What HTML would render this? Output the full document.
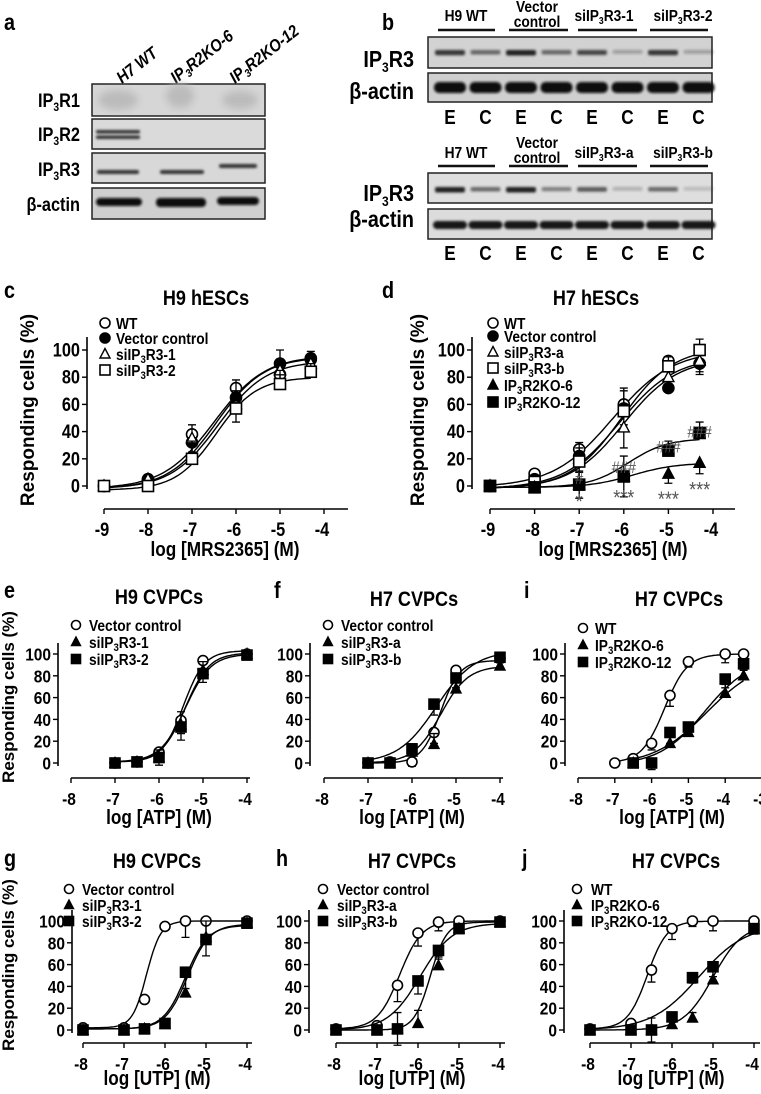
<!DOCTYPE html>
<html><head><meta charset="utf-8">
<style>
html,body{margin:0;padding:0;background:#fff;}
svg{display:block;font-family:"Liberation Sans Narrow","Liberation Sans",sans-serif;font-weight:bold;}
</style></head>
<body>
<svg id="fig" width="761" height="1094" viewBox="0 0 761 1094" xmlns="http://www.w3.org/2000/svg">
<defs>
<filter id="blur1" x="-20%" y="-100%" width="140%" height="300%"><feGaussianBlur stdDeviation="1.3"/></filter>
<filter id="blur3" x="-20%" y="-50%" width="140%" height="200%"><feGaussianBlur stdDeviation="4"/></filter>
</defs>

<!-- Panel a -->
<g>
<text x="4" y="30" font-size="23">a</text>
<g font-size="17" font-style="italic">
<text transform="translate(122,84) rotate(-38) scale(0.88,1)">H7 WT</text>
<text transform="translate(176,84) rotate(-38) scale(0.88,1)">IP<tspan font-size="11" dy="3">3</tspan><tspan dy="-3">R2KO-6</tspan></text>
<text transform="translate(235,84) rotate(-38) scale(0.88,1)">IP<tspan font-size="11" dy="3">3</tspan><tspan dy="-3">R2KO-12</tspan></text>
</g>
<g font-size="19" text-anchor="end">
<text x="80" y="107">IP<tspan font-size="12" dy="4">3</tspan><tspan dy="-4">R1</tspan></text>
<text x="80" y="141">IP<tspan font-size="12" dy="4">3</tspan><tspan dy="-4">R2</tspan></text>
<text x="80" y="176">IP<tspan font-size="12" dy="4">3</tspan><tspan dy="-4">R3</tspan></text>
<text x="80" y="211">β-actin</text>
</g>
<rect x="92" y="84" width="173" height="32" fill="#d6d6d6" stroke="#222" stroke-width="1.5"/>
<rect x="92" y="119" width="173" height="30" fill="#dadada" stroke="#222" stroke-width="1.5"/>
<rect x="92" y="153" width="173" height="30" fill="#d8d8d8" stroke="#222" stroke-width="1.5"/>
<rect x="92" y="188" width="173" height="31" fill="#cfcfcf" stroke="#222" stroke-width="1.5"/>
<g filter="url(#blur3)" fill="#bbb"><ellipse cx="118" cy="100" rx="20" ry="10"/><ellipse cx="180" cy="96" rx="14" ry="12"/><ellipse cx="240" cy="100" rx="18" ry="9"/></g>
<g filter="url(#blur1)" fill="#333">
<rect x="96" y="130" width="44" height="3.5" rx="1.5"/><rect x="96" y="135.5" width="44" height="3.5" rx="1.5"/>
<rect x="97" y="170" width="42" height="4" rx="2"/><rect x="160" y="170" width="44" height="4" rx="2"/><rect x="219" y="164" width="38" height="4" rx="2"/>
<rect x="96" y="198" width="46" height="8" rx="4" fill="#111"/><rect x="156" y="198" width="50" height="9" rx="4" fill="#111"/><rect x="217" y="197" width="42" height="8" rx="4" fill="#111"/>
</g>
</g>

<!-- Panel b -->
<g>
<text x="382" y="30" font-size="23">b</text>
<g font-size="16" text-anchor="middle">
<text x="466" y="21">H9 WT</text>
<text x="537" y="12">Vector</text>
<text x="537" y="27">control</text>
<text x="604" y="21">siIP<tspan font-size="10" dy="3">3</tspan><tspan dy="-3">R3-1</tspan></text>
<text x="683" y="21">siIP<tspan font-size="10" dy="3">3</tspan><tspan dy="-3">R3-2</tspan></text>
<text x="466" y="158">H7 WT</text>
<text x="537" y="148">Vector</text>
<text x="537" y="163">control</text>
<text x="604" y="158">siIP<tspan font-size="10" dy="3">3</tspan><tspan dy="-3">R3-a</tspan></text>
<text x="683" y="158">siIP<tspan font-size="10" dy="3">3</tspan><tspan dy="-3">R3-b</tspan></text>
</g>
<g stroke="#111" stroke-width="2.5">
<line x1="438" y1="30" x2="495" y2="30"/><line x1="509" y1="30" x2="568" y2="30"/><line x1="578" y1="30" x2="637" y2="30"/><line x1="650" y1="30" x2="708" y2="30"/>
<line x1="438" y1="166" x2="495" y2="166"/><line x1="509" y1="166" x2="568" y2="166"/><line x1="578" y1="166" x2="637" y2="166"/><line x1="650" y1="166" x2="708" y2="166"/>
</g>
<g font-size="23" text-anchor="end">
<text x="414" y="67">IP<tspan font-size="14" dy="5">3</tspan><tspan dy="-5">R3</tspan></text>
<text x="414" y="99">β-actin</text>
<text x="414" y="201">IP<tspan font-size="14" dy="5">3</tspan><tspan dy="-5">R3</tspan></text>
<text x="414" y="227">β-actin</text>
</g>
<rect x="428" y="37" width="284" height="31" fill="#d2d2d2" stroke="#222" stroke-width="1.5"/>
<rect x="428" y="73" width="284" height="29" fill="#cfcfcf" stroke="#222" stroke-width="1.5"/>
<rect x="428" y="173" width="284" height="30" fill="#dedede" stroke="#222" stroke-width="1.5"/>
<rect x="428" y="209" width="284" height="30" fill="#dcdcdc" stroke="#222" stroke-width="1.5"/>
<g id="bbands" filter="url(#blur1)"></g>
<g id="eclabels" font-size="20" text-anchor="middle"></g>
</g>

<g id="charts"></g>
</svg>
<script>
// ---------- chart data ----------
const cX=[-9,-8,-7,-6,-5,-4.3];
const cWT=[0,5,38,72,82,94];
const cVec=[0,5,32,65,90,93];
const cSi1=[0,5,35,60,85,90];
const cSi2=[0,0,20,57,75,84];
const cErr=[3,3,13,13,10,6];
const cFitWT=[-2,96,-6.5,0.75];
const cFitVec=[-2,95,-6.45,0.8];
const cFitSi1=[-2,92,-6.4,0.8];
const cFitSi2=[-3,80,-6.45,0.95];

const dX=[-9,-8,-7,-6,-5,-4.3];
const dWT=[0,9,27,60,92,90];
const dVec=[0,5,22,57,72,90];
const dSiA=[0,4,20,43,80,92];
const dSiB=[0,3,18,55,88,100];
const dKO6=[0,-1,1,7,9,17];
const dKO12=[0,-1,1,7,26,39];
const dErr=[2,2,10,15,7,8];
const dFitWT=[-1,100,-6.25,0.65];
const dFitVec=[-2,95,-6.1,0.7];
const dFitSiA=[-2,94,-6.0,0.72];
const dFitSiB=[-2,102,-6.05,0.75];
const dFitKO6=[-1,17,-5.8,0.9];
const dFitKO12=[-1,35,-5.9,1.0];
const dHashVals=[6,14,29,40];
const dHashLabels=["#","###","###","###"];
const dStarVals=[-7,-4,-5,2];
const dStarLabels=["*","***","***","***"];

const eX=[-7,-6.5,-6,-5.5,-5,-4];
const eVec=[0,1,10,39,94,100];
const eSi1=[0,1,5,35,85,100];
const eSi2=[0,1,5,33,82,99];
const eErr=[2,2,7,12,8,3];
const eFitVec=[1,103,-5.45,1.8];
const eFitSi1=[1,101,-5.4,1.6];
const eFitSi2=[1,100,-5.4,1.5];

const fX=[-7,-6.5,-6,-5.5,-5,-4];
const fVec=[0,1,1,28,85,96];
const fSiA=[0,0,10,17,68,89];
const fSiB=[0,0,13,54,78,97];
const fErr=[2,2,4,10,9,4];
const fFitVec=[0,94,-5.35,2.0];
const fFitSiA=[0,89,-5.35,1.4];
const fFitSiB=[0,103,-5.45,1.0];

const iX=[-7,-6.5,-6,-5.5,-5,-4,-3.5];
const iWT=[0,4,18,62,93,100,100];
const iKO6=[null,0,null,18,28,64,80];
const iKO12=[null,0,0,28,33,77,91];
const iErr=[2,4,6,10,5,8,6];
const iFitWT=[0,100,-5.65,1.4];
const iFitKO6=[-2,95,-4.5,0.6];
const iFitKO12=[-2,97,-4.55,0.7];

const gX=[-8,-7,-6.5,-6,-5.5,-5,-4];
const gVec=[2,2,28,95,100,100,100];
const gSi1=[0,0,1,5,34,85,98];
const gSi2=[0,0,1,6,53,83,98];
const gErr=[2,2,3,3,15,15,3];
const gFitVec=[2,100,-6.45,2.5];
const gFitSi1=[1,97,-5.45,1.6];
const gFitSi2=[1,96,-5.5,1.6];

const hX=[-8,-7,-6.5,-6,-5.5,-5,-4];
const hVec=[1,4,41,89,99,100,100];
const hSiA=[0,0,1,6,59,93,99];
const hSiB=[0,0,1,45,73,93,99];
const hErr=[2,2,15,12,8,4,3];
const hFitVec=[1,100,-6.45,1.6];
const hFitSiA=[0,99,-5.7,2.2];
const hFitSiB=[0,98,-5.95,1.1];

const jX=[-8,-7,-6.5,-6,-5.5,-5,-4];
const jWT=[1,6,55,93,100,100,100];
const jKO6=[0,0,0,5,11,46,92];
const jKO12=[0,0,0,12,48,58,93];
const jErr=[2,2,11,10,5,9,5];
const jFitWT=[1,100,-6.6,1.8];
const jFitKO6=[0,97,-5.0,1.2];
const jFitKO12=[0,97,-5.35,0.75];

const blotLanes=["E","C","E","C","E","C","E","C"];
const ip3r3H9=[0.9,0.6,1.0,0.6,0.8,0.3,0.9,0.3];
const ip3r3H7=[1.0,0.6,1.0,0.5,0.7,0.25,0.6,0.2];

const NS="http://www.w3.org/2000/svg";
function mk(tag,attrs,parent){const e=document.createElementNS(NS,tag);for(const k in attrs)e.setAttribute(k,attrs[k]);parent.appendChild(e);return e;}
function fmt(s){const parts=s.split(/_(\d)/);if(parts.length===1)return s;let out=parts[0];for(let i=1;i<parts.length;i+=2){out+='<tspan font-size="70%" dy="3">'+parts[i]+'</tspan><tspan dy="-3">'+parts[i+1]+'</tspan>';}return out;}

const bb=document.getElementById('bbands');
const ecl=document.getElementById('eclabels');
blotLanes.forEach((L,i)=>{
  const cx=450+i*35.5;
  const a=ip3r3H9[i];
  const r1=mk('rect',{x:cx-15,y:50,width:30,height:3+a*2.5,rx:2,fill:'#222','fill-opacity':a},bb);
  
  
  const r2=mk('rect',{x:cx-16,y:82,width:32,height:11,rx:5,fill:'#111'},bb);
  
  
  const b=ip3r3H7[i];
  const r3=mk('rect',{x:cx-15,y:187,width:30,height:3+b*2.5,rx:2,fill:'#222','fill-opacity':b},bb);
  
  
  const r4=mk('rect',{x:cx-17,y:221,width:34,height:8,rx:4,fill:'#151515'},bb);
  
  
  const t1=mk('text',{x:cx,y:124},ecl);t1.textContent=L;
  
  
  const t2=mk('text',{x:cx,y:260},ecl);t2.textContent=L;
  
  
});

function marker(g,type,x,y,s){
  let e;
  const fill=(type.startsWith('f'))?'#000':'#fff';
  if(type.endsWith('circle')) e=mk('circle',{cx:x,cy:y,r:s,fill:fill,stroke:'#000','stroke-width':1.6},g);
  else if(type.endsWith('square')) e=mk('rect',{x:x-s,y:y-s,width:2*s,height:2*s,fill:fill,stroke:'#000','stroke-width':1.6},g);
  else e=mk('polygon',{points:`${x},${y-s*1.1} ${x+s},${y+s*0.8} ${x-s},${y+s*0.8}`,fill:fill,stroke:'#000','stroke-width':1.4},g);
  return e;
}
function sig(p,x){return p[0]+(p[1]-p[0])/(1+Math.pow(10,(p[2]-x)*p[3]));}

function panel(cfg){
  const root=document.getElementById('charts');
  const g=mk('g',{},root);
  
  
  const X=v=>cfg.x0+(v-cfg.xmin)*cfg.dx;
  const Y=v=>cfg.y0-v*cfg.dy;
  const lt=mk('text',{x:cfg.lx,y:cfg.ly,'font-size':23},g);lt.textContent=cfg.letter;
  
  
  const tt=mk('text',{x:cfg.tx,y:cfg.ty,'font-size':cfg.tfs||21,'text-anchor':'middle'},g);tt.textContent=cfg.title;
  
  
  const ya=mk('line',{x1:cfg.ax,y1:cfg.yTop,x2:cfg.ax,y2:Y(0)+3,stroke:'#000','stroke-width':1.6},g);
  
  
  for(let v=0;v<=100;v+=20){
    mk('line',{x1:cfg.ax-5,y1:Y(v),x2:cfg.ax,y2:Y(v),stroke:'#000','stroke-width':1.4},g);
    const t=mk('text',{x:cfg.ax-7,y:Y(v)+6.5,'font-size':cfg.tkfs,'text-anchor':'end'},g);t.textContent=v;
    
    
  }
  if(cfg.ytx){
    const yt=mk('text',{x:0,y:0,'font-size':cfg.ytfs||18,'text-anchor':'middle',transform:`translate(${cfg.ytx},${cfg.yty}) rotate(-90)`,'font-family':'Liberation Sans, sans-serif'},g);
    yt.textContent='Responding cells (%)';
    
    
  }
  const xa=mk('line',{x1:X(cfg.xmin),y1:cfg.xay,x2:cfg.xend,y2:cfg.xay,stroke:'#000','stroke-width':1.6},g);
  
  
  for(let v=cfg.xmin;v<=cfg.xmax;v++){
    mk('line',{x1:X(v),y1:cfg.xay,x2:X(v),y2:cfg.xay+5,stroke:'#000','stroke-width':1.4},g);
    const t=mk('text',{x:X(v)-2,y:cfg.xay+27,'font-size':cfg.tkfs,'text-anchor':'middle'},g);t.textContent=v;
    
    
  }
  const xt=mk('text',{x:cfg.xtx,y:cfg.xty,'font-size':cfg.xtfs||20,'text-anchor':'middle'},g);xt.textContent=cfg.xtitle;
  
  
  cfg.series.forEach((s,si)=>{
    const sg=mk('g',{},g);
    
    
    let d='';
    const xs=cfg.xs.filter((v,i)=>s.vals[i]!==null);
    const a=xs[0],b=xs[xs.length-1];
    for(let k=0;k<=80;k++){const xv=a+(b-a)*k/80;d+=(k?'L':'M')+X(xv).toFixed(1)+','+Y(sig(s.fit,xv)).toFixed(1);}
    const p=mk('path',{d:d,fill:'none',stroke:'#000','stroke-width':1.4},sg);
    
    
    cfg.xs.forEach((xv,i)=>{
      const v=s.vals[i];if(v===null)return;
      const e=cfg.err[i];
      if(e>3){
        const dir=(si%2===0)?-1:1;
        const eb=mk('path',{d:`M${X(xv)},${Y(v)}V${Y(v+dir*e)}M${X(xv)-4},${Y(v+dir*e)}H${X(xv)+4}`,stroke:'#000','stroke-width':1.3,fill:'none'},sg);
        
        
      }
      const m=marker(sg,s.type,X(xv),Y(v),cfg.ms);
      
      
    });
    const ly=cfg.legY[si];
    const lm=marker(g,s.type,cfg.legMx,ly,cfg.ms-0.5);
    
    
    const lt2=mk('text',{x:cfg.legTx,y:ly+6,'font-size':cfg.legfs},g);
    lt2.innerHTML=fmt(s.label);
    
    
  });
  if(cfg.after)cfg.after(g,X,Y);
}

panel({name:'chart-c-h9-hescs',letter:'c',lx:4,ly:298,title:'H9 hESCs',tx:206,ty:305,
 x0:104,xmin:-9,xmax:-4,dx:44,y0:486,dy:1.36,ax:87,yTop:337,xay:509,xend:348,tkfs:19,
 ytx:34,yty:410,ytfs:19,xtx:225,xty:556,xtitle:'log [MRS2365] (M)',xs:cX,err:cErr,ms:5.5,
 legMx:105,legTx:116,legY:[323,338,354,370],legfs:16,
 series:[{key:'wt',label:'WT',type:'ocircle',vals:cWT,fit:cFitWT},{key:'vector',label:'Vector control',type:'fcircle',vals:cVec,fit:cFitVec},
 {key:'si1',label:'siIP_3R3-1',type:'otri',vals:cSi1,fit:cFitSi1},{key:'si2',label:'siIP_3R3-2',type:'osquare',vals:cSi2,fit:cFitSi2}]});

panel({name:'chart-d-h7-hescs',letter:'d',lx:382,ly:298,title:'H7 hESCs',tx:596,ty:305,
 x0:490,xmin:-9,xmax:-4,dx:44.6,y0:486,dy:1.36,ax:472,yTop:337,xay:509,xend:735,tkfs:19,
 ytx:424,yty:410,ytfs:19,xtx:613,xty:556,xtitle:'log [MRS2365] (M)',xs:dX,err:dErr,ms:5.5,
 legMx:493,legTx:504,legY:[323,336,352,368,385,402],legfs:16,
 series:[{key:'wt',label:'WT',type:'ocircle',vals:dWT,fit:dFitWT},{key:'vector',label:'Vector control',type:'fcircle',vals:dVec,fit:dFitVec},
 {key:'sia',label:'siIP_3R3-a',type:'otri',vals:dSiA,fit:dFitSiA},{key:'sib',label:'siIP_3R3-b',type:'osquare',vals:dSiB,fit:dFitSiB},
 {key:'ko6',label:'IP_3R2KO-6',type:'ftri',vals:dKO6,fit:dFitKO6},{key:'ko12',label:'IP_3R2KO-12',type:'fsquare',vals:dKO12,fit:dFitKO12}],
 after:(g,X,Y)=>{
   [-7,-6,-5,-4.3].forEach((xv,i)=>{
     const h=mk('text',{x:X(xv),y:Y(dHashVals[i])+6,'font-size':17,'font-weight':'normal','text-anchor':'middle',fill:'#555'},g);h.textContent=dHashLabels[i];
     
     
     const s=mk('text',{x:X(xv),y:Y(dStarVals[i])+13,'font-size':21,'font-weight':'normal','text-anchor':'middle',fill:'#555'},g);s.textContent=dStarLabels[i];
     
     
   });
 }});

const common={tkfs:18,ms:5,legfs:16,xtfs:20};
panel(Object.assign({},common,{name:'chart-e-h9-cvpcs-atp',letter:'e',lx:4,ly:598,title:'H9 CVPCs',tx:159,ty:604,
 x0:71,xmin:-8,xmax:-4,dx:44,y0:763,dy:1.09,ax:58,yTop:643,xay:778,xend:250,
 ytx:14,yty:697,ytfs:17,xtx:159,xty:824,xtitle:'log [ATP] (M)',xs:eX,err:eErr,
 legMx:76,legTx:89,legY:[625,642,659],
 series:[{key:'vector',label:'Vector control',type:'ocircle',vals:eVec,fit:eFitVec},{key:'si1',label:'siIP_3R3-1',type:'ftri',vals:eSi1,fit:eFitSi1},{key:'si2',label:'siIP_3R3-2',type:'fsquare',vals:eSi2,fit:eFitSi2}]}));

panel(Object.assign({},common,{name:'chart-f-h7-cvpcs-atp',letter:'f',lx:274,ly:598,title:'H7 CVPCs',tx:414,ty:606,
 x0:324,xmin:-8,xmax:-4,dx:44,y0:763,dy:1.09,ax:310,yTop:643,xay:778,xend:503,
 xtx:412,xty:824,xtitle:'log [ATP] (M)',xs:fX,err:fErr,
 legMx:328,legTx:341,legY:[625,642,659],
 series:[{key:'vector',label:'Vector control',type:'ocircle',vals:fVec,fit:fFitVec},{key:'sia',label:'siIP_3R3-a',type:'ftri',vals:fSiA,fit:fFitSiA},{key:'sib',label:'siIP_3R3-b',type:'fsquare',vals:fSiB,fit:fFitSiB}]}));

panel(Object.assign({},common,{name:'chart-i-h7-cvpcs-atp',letter:'i',lx:524,ly:598,title:'H7 CVPCs',tx:679,ty:606,
 x0:578,xmin:-8,xmax:-3,dx:36.8,y0:763,dy:1.09,ax:565,yTop:643,xay:778,xend:761,
 xtx:672,xty:824,xtitle:'log [ATP] (M)',xs:iX,err:iErr,
 legMx:583,legTx:595,legY:[628,645,662],
 series:[{key:'wt',label:'WT',type:'ocircle',vals:iWT,fit:iFitWT},{key:'ko6',label:'IP_3R2KO-6',type:'ftri',vals:iKO6,fit:iFitKO6},{key:'ko12',label:'IP_3R2KO-12',type:'fsquare',vals:iKO12,fit:iFitKO12}]}));

panel(Object.assign({},common,{name:'chart-g-h9-cvpcs-utp',letter:'g',lx:4,ly:866,title:'H9 CVPCs',tx:157,ty:868,
 x0:83,xmin:-8,xmax:-4,dx:41,y0:1030,dy:1.09,ax:72,yTop:910,xay:1043,xend:252,
 ytx:14,yty:965,ytfs:17,xtx:157,xty:1085,xtitle:'log [UTP] (M)',xs:gX,err:gErr,
 legMx:69,legTx:82,legY:[889,905,921],
 series:[{key:'vector',label:'Vector control',type:'ocircle',vals:gVec,fit:gFitVec},{key:'si1',label:'siIP_3R3-1',type:'ftri',vals:gSi1,fit:gFitSi1},{key:'si2',label:'siIP_3R3-2',type:'fsquare',vals:gSi2,fit:gFitSi2}]}));

panel(Object.assign({},common,{name:'chart-h-h7-cvpcs-utp',letter:'h',lx:276,ly:866,title:'H7 CVPCs',tx:412,ty:868,
 x0:336,xmin:-8,xmax:-4,dx:41,y0:1030,dy:1.09,ax:309,yTop:910,xay:1043,xend:505,
 xtx:412,xty:1085,xtitle:'log [UTP] (M)',xs:hX,err:hErr,
 legMx:323,legTx:337,legY:[889,905,921],
 series:[{key:'vector',label:'Vector control',type:'ocircle',vals:hVec,fit:hFitVec},{key:'sia',label:'siIP_3R3-a',type:'ftri',vals:hSiA,fit:hFitSiA},{key:'sib',label:'siIP_3R3-b',type:'fsquare',vals:hSiB,fit:hFitSiB}]}));

panel(Object.assign({},common,{name:'chart-j-h7-cvpcs-utp',letter:'j',lx:522,ly:866,title:'H7 CVPCs',tx:676,ty:868,
 x0:590,xmin:-8,xmax:-4,dx:41,y0:1030,dy:1.09,ax:564,yTop:910,xay:1043,xend:760,
 xtx:671,xty:1085,xtitle:'log [UTP] (M)',xs:jX,err:jErr,
 legMx:577,legTx:591,legY:[889,905,921],
 series:[{key:'wt',label:'WT',type:'ocircle',vals:jWT,fit:jFitWT},{key:'ko6',label:'IP_3R2KO-6',type:'ftri',vals:jKO6,fit:jFitKO6},{key:'ko12',label:'IP_3R2KO-12',type:'fsquare',vals:jKO12,fit:jFitKO12}]}));

// emulate condensed bold font: horizontally compress non-rotated text around its x
document.querySelectorAll('#fig text').forEach(t=>{
  if(t.hasAttribute('transform'))return;
  const bx=parseFloat(t.getAttribute('x'))||0;
  t.setAttribute('transform',`translate(${bx},0) scale(0.86,1) translate(${-bx},0)`);
});
</script>
</body></html>
